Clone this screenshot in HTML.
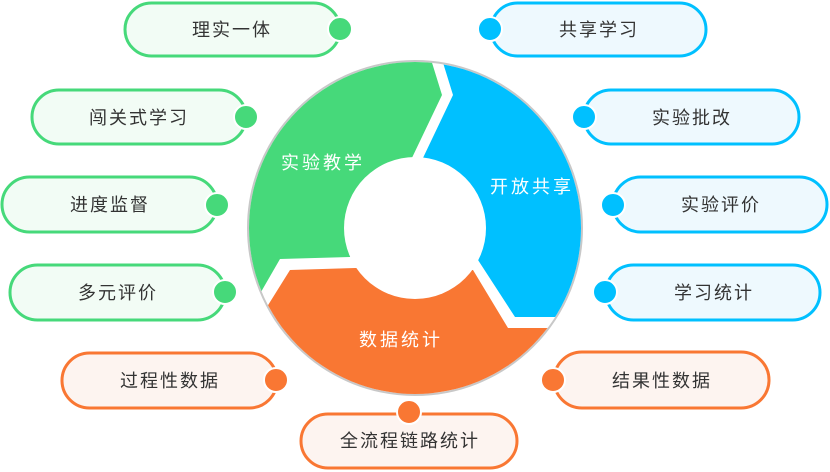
<!DOCTYPE html>
<html><head><meta charset="utf-8"><style>
html,body{margin:0;padding:0;background:#fff;width:830px;height:472px;overflow:hidden}
text{font-family:"Liberation Sans","Noto Sans CJK SC",sans-serif}
</style></head><body>
<svg width="830" height="472" viewBox="0 0 830 472" xmlns="http://www.w3.org/2000/svg">
<defs>
<clipPath id="c"><circle cx="415" cy="228" r="166"/></clipPath>
</defs>
<circle cx="415" cy="228" r="167" fill="#fff" stroke="#c8c8c8" stroke-width="2"/>
<g clip-path="url(#c)">
<polygon fill="#46d97a" points="425,40 442,95 410,162 350,257 280,259 250,311 200,311 200,40"/>
<polygon fill="#00c0ff" points="436,40 453,95 422,160 478,260 515,317 600,317 600,40"/>
<polygon fill="#f97733" points="355,268 290,270 245,342 245,420 600,420 600,328 508,328 473,270"/>
</g>
<circle cx="415" cy="228" r="71" fill="#fff"/>
<g fill="#fff" font-size="18" text-anchor="middle" letter-spacing="3">
<text x="323" y="169">实验教学</text>
<text x="532" y="193">开放共享</text>
<text x="401" y="346">数据统计</text>
</g>
<g stroke-width="3">
<rect x="125" y="3" width="215" height="53" rx="26.5" fill="#f2fcf5" stroke="#46d97a"/>
<rect x="32" y="90" width="214" height="54" rx="27" fill="#f2fcf5" stroke="#46d97a"/>
<rect x="2" y="177" width="215" height="55" rx="27.5" fill="#f2fcf5" stroke="#46d97a"/>
<rect x="10" y="265" width="215" height="55" rx="27.5" fill="#f2fcf5" stroke="#46d97a"/>
<rect x="62" y="353" width="215" height="55" rx="27.5" fill="#fdf4f0" stroke="#f97733"/>
<rect x="301" y="414" width="216" height="54" rx="27" fill="#fdf4f0" stroke="#f97733"/>
<rect x="554" y="352" width="215" height="56" rx="28" fill="#fdf4f0" stroke="#f97733"/>
<rect x="491" y="3" width="215" height="53" rx="26.5" fill="#eef9fe" stroke="#00c0ff"/>
<rect x="584" y="90" width="215" height="54" rx="27" fill="#eef9fe" stroke="#00c0ff"/>
<rect x="613" y="177" width="214" height="55" rx="27.5" fill="#eef9fe" stroke="#00c0ff"/>
<rect x="606" y="265" width="214" height="55" rx="27.5" fill="#eef9fe" stroke="#00c0ff"/>
</g>
<g font-size="18" fill="#333" text-anchor="middle" letter-spacing="2">
<text x="232" y="36">理实一体</text>
<text x="139" y="124">闯关式学习</text>
<text x="110" y="211">进度监督</text>
<text x="118" y="299">多元评价</text>
<text x="170" y="387">过程性数据</text>
<text x="410" y="447">全流程链路统计</text>
<text x="662" y="387">结果性数据</text>
<text x="599" y="36">共享学习</text>
<text x="692" y="124">实验批改</text>
<text x="721" y="211">实验评价</text>
<text x="714" y="299">学习统计</text>
</g>
<g stroke="#fff" stroke-width="2">
<circle cx="340" cy="29" r="12" fill="#46d97a"/>
<circle cx="246" cy="117" r="12" fill="#46d97a"/>
<circle cx="217" cy="205" r="12" fill="#46d97a"/>
<circle cx="225" cy="292" r="12" fill="#46d97a"/>
<circle cx="276" cy="380" r="12" fill="#f97733"/>
<circle cx="409" cy="412" r="12" fill="#f97733"/>
<circle cx="553" cy="380" r="12" fill="#f97733"/>
<circle cx="490" cy="29" r="12" fill="#00c0ff"/>
<circle cx="584" cy="117" r="12" fill="#00c0ff"/>
<circle cx="613" cy="205" r="12" fill="#00c0ff"/>
<circle cx="605" cy="292" r="12" fill="#00c0ff"/>
</g>
</svg>
</body></html>
